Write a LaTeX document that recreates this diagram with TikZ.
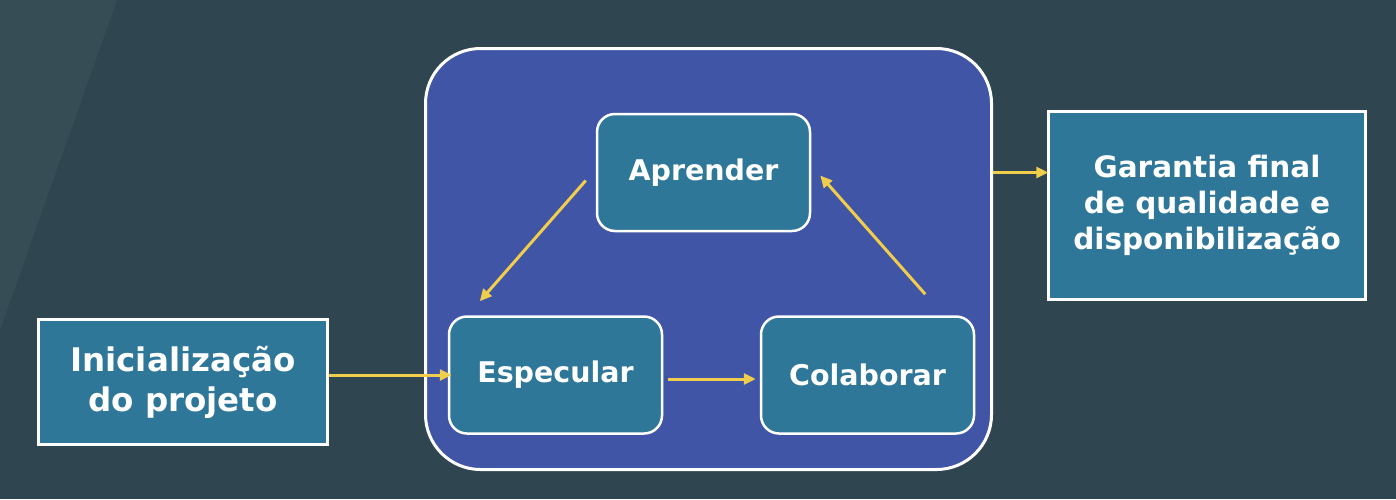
\documentclass[tikz,border=0pt]{standalone}
\usepackage{fontspec}
\setmainfont{DejaVu Sans}
\usetikzlibrary{arrows.meta}
\definecolor{bgc}{RGB}{47,69,80}
\definecolor{bgl}{RGB}{54,77,86}
\definecolor{outerc}{RGB}{65,85,167}
\definecolor{boxc}{RGB}{46,119,152}
\definecolor{arrc}{RGB}{240,205,75}
\tikzset{
  stepbox/.style={draw=white, line width=2.5pt, fill=boxc, rounded corners=18pt,
    minimum width=213pt, minimum height=117pt, inner sep=0pt,
    text=white, font=\bfseries\fontsize{28.5}{34}\selectfont, align=center},
  sidebox/.style={draw=white, line width=2.5pt, fill=boxc,
    inner sep=0pt, text=white, align=center},
  arr/.style={draw=arrc, line width=3pt, -{Triangle[length=12pt,width=11pt]}},
}
\begin{document}
\begin{tikzpicture}[x=1pt,y=-1pt]
\useasboundingbox (0,0) rectangle (1396,499);
\fill[bgc] (0,0) rectangle (1396,499);
\fill[bgl] (0,0) -- (117,0) -- (0,330) -- cycle;
\node[draw=white, line width=3pt, fill=outerc, rounded corners=55pt,
  minimum width=566pt, minimum height=421pt, inner sep=0pt] (outer) at (708.5,259) {};
\node[stepbox] (apr) at (703.5,172.5) {Aprender};
\node[stepbox] (esp) at (555.5,375) {Especular};
\node[stepbox] (col) at (867.5,375) {Colaborar};
\node[sidebox, minimum width=289pt, minimum height=125pt,
  font=\bfseries\fontsize{32.5}{40}\selectfont] (ini) at (183,382) {Inicialização\\do projeto};
\node[sidebox, minimum width=317pt, minimum height=188pt,
  font=\bfseries\fontsize{29.5}{36}\selectfont] (gar) at (1207,205.5) {Garantia final\\de qualidade e\\disponibilização};
\draw[arr] (ini.east |- esp.west) -- ([xshift=4pt]esp.west);
\draw[arr] ([xshift=5pt,yshift=-4pt]esp.east) -- ([xshift=-4pt,yshift=-4pt]col.west);
\draw[arr] ([xshift=-10pt,yshift=-8pt]apr.west) -- ([xshift=32pt,yshift=14pt]esp.north west);
\draw[arr] ([xshift=-50pt,yshift=21pt]col.north east) -- ([xshift=9pt,yshift=-3pt]apr.east);
\draw[arr] (outer.east |- apr.east) -- ([xshift=1pt]gar.west |- apr.east);
\end{tikzpicture}
\end{document}
